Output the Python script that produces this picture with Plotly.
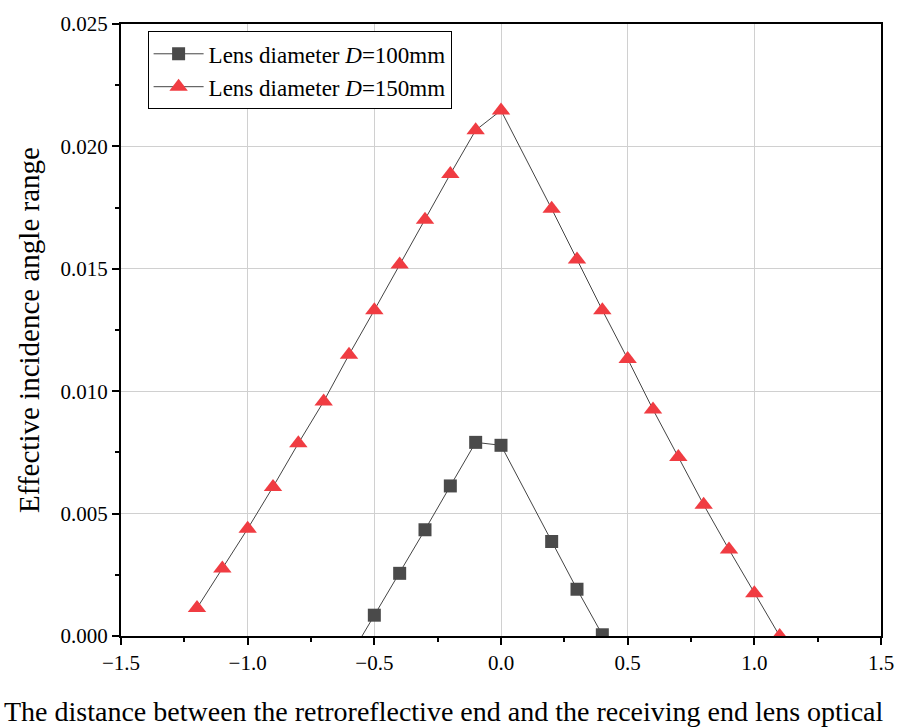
import plotly.graph_objects as go

x_d100 = [-0.6, -0.5, -0.4, -0.3, -0.2, -0.1, 0.0, 0.2, 0.3, 0.4]
y_d100 = [-0.0009, 0.00085, 0.00256, 0.00434, 0.00613, 0.00791, 0.00779, 0.00386, 0.00191, 0.00005]

x_d150 = [-1.2, -1.1, -1.0, -0.9, -0.8, -0.7, -0.6, -0.5, -0.4, -0.3, -0.2, -0.1, 0.0,
          0.2, 0.3, 0.4, 0.5, 0.6, 0.7, 0.8, 0.9, 1.0, 1.1]
y_d150 = [0.00114, 0.00276, 0.00438, 0.00609, 0.00787, 0.00958, 0.01149, 0.01331, 0.01518,
          0.01700, 0.01887, 0.02066, 0.02147,
          0.01745, 0.01538, 0.01331, 0.01132, 0.00925, 0.00731, 0.00536, 0.00353, 0.00175, 0.0]

name_d100 = "Lens diameter <i>D</i>=100mm"
name_d150 = "Lens diameter <i>D</i>=150mm"
x_title = "The distance between the retroreflective end and the receiving end lens optical"
y_title = "Effective incidence angle range"

FONT = "Liberation Serif, Times New Roman, serif"

fig = go.Figure()
fig.add_trace(go.Scatter(
    x=x_d100, y=y_d100, name=name_d100, mode="lines+markers",
    line=dict(color="#444444", width=1),
    marker=dict(symbol="square", size=13, color="#4a4a4a"),
    cliponaxis=True,
))
fig.add_trace(go.Scatter(
    x=x_d150, y=y_d150, name=name_d150, mode="lines+markers",
    line=dict(color="#444444", width=1),
    marker=dict(symbol="triangle-up", size=16, color="#f03c42"),
    cliponaxis=True,
))

fig.update_layout(
    width=906, height=727,
    margin=dict(l=121, r=19, t=21, b=91),
    paper_bgcolor="white", plot_bgcolor="white",
    font=dict(family=FONT, size=21, color="black"),
    showlegend=True,
    legend=dict(
        x=0.035, y=0.988, xanchor="left", yanchor="top",
        bgcolor="white", bordercolor="black", borderwidth=1,
        font=dict(family=FONT, size=23, color="black"),
        tracegroupgap=0, itemwidth=50,
    ),
    xaxis=dict(
        range=[-1.5, 1.5], tickmode="linear", tick0=-1.5, dtick=0.5,
        tickformat=".1f",
        showgrid=True, gridcolor="#d0d0d0", gridwidth=1,
        showline=True, linecolor="black", linewidth=2, mirror=True,
        ticks="outside", ticklen=7, tickwidth=1.5, tickcolor="black",
        minor=dict(ticks="outside", ticklen=4, tickwidth=1.5, tickcolor="black", dtick=0.25, showgrid=False),
        zeroline=False,
        tickfont=dict(family=FONT, size=21),
    ),
    yaxis=dict(
        range=[0, 0.025], tickmode="linear", tick0=0, dtick=0.005,
        tickformat=".3f",
        showgrid=True, gridcolor="#d0d0d0", gridwidth=1,
        showline=True, linecolor="black", linewidth=2, mirror=True,
        ticks="outside", ticklen=7, tickwidth=1.5, tickcolor="black",
        minor=dict(ticks="outside", ticklen=4, tickwidth=1.5, tickcolor="black", dtick=0.0025, showgrid=False),
        zeroline=False,
        tickfont=dict(family=FONT, size=21),
        title=dict(text=y_title, font=dict(family=FONT, size=29), standoff=12),
    ),
)

fig.add_annotation(
    text=x_title, xref="paper", yref="paper",
    x=(1 - 121) / 766, y=-(712 - 636) / 615,
    xanchor="left", yanchor="middle", showarrow=False,
    font=dict(family=FONT, size=28, color="black"),
)

fig.write_html("out.html")
